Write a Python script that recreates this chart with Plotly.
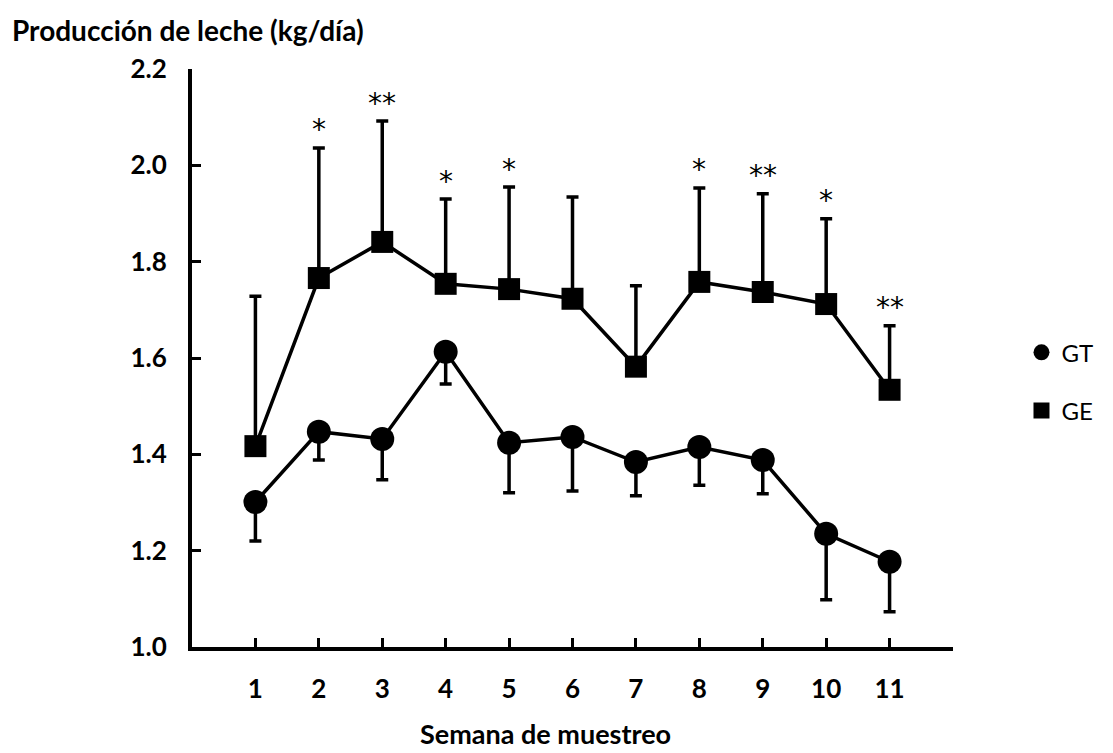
import plotly.graph_objects as go

weeks = list(range(1, 12))
gt_mean = [1.301, 1.447, 1.432, 1.613, 1.424, 1.436, 1.384, 1.415, 1.388, 1.235, 1.177]
gt_lower = [1.220, 1.388, 1.347, 1.546, 1.320, 1.324, 1.314, 1.336, 1.318, 1.098, 1.073]
ge_mean = [1.417, 1.766, 1.841, 1.754, 1.743, 1.723, 1.582, 1.758, 1.737, 1.712, 1.534]
ge_upper = [1.728, 2.036, 2.092, 1.930, 1.955, 1.934, 1.750, 1.953, 1.941, 1.889, 1.667]
signif = ["", "*", "**", "*", "*", "", "", "*", "**", "*", "**"]
x_tick_vals = list(range(1, 13))
x_tick_text = [str(w) for w in weeks] + [""]
y_tick_vals = [1.0, 1.2, 1.4, 1.6, 1.8, 2.0, 2.2]

gt_minus = [m - l for m, l in zip(gt_mean, gt_lower)]
ge_plus = [u - m for u, m in zip(ge_upper, ge_mean)]

FONT = "Lato"
W, H = 1105, 745
L, T = 184, 61
PW, PH = 761, 578

fig = go.Figure()

fig.add_trace(go.Scatter(
    x=weeks, y=gt_mean, mode="lines+markers", name="GT", showlegend=False,
    line=dict(color="black", width=3.5),
    marker=dict(symbol="circle", size=24, color="black"),
    error_y=dict(type="data", symmetric=False, array=[0] * 11, arrayminus=gt_minus,
                 color="black", thickness=3.5, width=6),
))
fig.add_trace(go.Scatter(
    x=weeks, y=ge_mean, mode="lines+markers", name="GE", showlegend=False,
    line=dict(color="black", width=3.5),
    marker=dict(symbol="square", size=22, color="black"),
    error_y=dict(type="data", symmetric=False, array=ge_plus, arrayminus=[0] * 11,
                 color="black", thickness=3.5, width=6),
))
# legend entries (markers only)
fig.add_trace(go.Scatter(x=[None], y=[None], mode="markers", name="GT", legendgroup="a",
                         marker=dict(symbol="circle", size=22, color="black")))
fig.add_trace(go.Scatter(x=[None], y=[None], mode="markers", name="GE", legendgroup="b",
                         marker=dict(symbol="square", size=20, color="black")))

for w, u, s in zip(weeks, ge_upper, signif):
    if s:
        fig.add_annotation(x=w, y=u, text=s, showarrow=False, yanchor="middle",
                           yshift=18, font=dict(family="DejaVu Sans", size=28, color="black"))

fig.add_annotation(xref="paper", yref="paper", x=(2 - L) / PW, y=1 + (T - 22) / PH,
                   xanchor="left", yanchor="middle", showarrow=False,
                   text="<b>Producción de leche (kg/día)</b>",
                   font=dict(family=FONT, size=28, color="black"))
fig.add_annotation(xref="paper", yref="paper", x=(537 - L) / PW, y=-(725 - T - PH) / PH,
                   xanchor="center", yanchor="middle", showarrow=False,
                   text="<b>Semana de muestreo</b>",
                   font=dict(family=FONT, size=27, color="black"))

fig.update_layout(
    width=W, height=H,
    margin=dict(l=L, r=W - L - PW, t=T, b=H - T - PH),
    paper_bgcolor="white", plot_bgcolor="white",
    font=dict(family=FONT, color="black"),
    legend=dict(x=1.09, y=0.548, xanchor="left", yanchor="top",
                font=dict(family=FONT, size=24, color="black"),
                traceorder="grouped", tracegroupgap=24, bgcolor="rgba(0,0,0,0)"),
    xaxis=dict(range=[0, 12], tickmode="array", tickvals=x_tick_vals,
               ticktext=[f"<b>{t}</b>" if t else "" for t in x_tick_text],
               showline=True, linecolor="black", linewidth=4, ticks="inside", ticklen=9,
               tickwidth=3, tickcolor="black", showgrid=False, zeroline=False,
               tickfont=dict(family=FONT, size=26, color="black"), ticklabelstandoff=16),
    yaxis=dict(range=[1.0, 2.2], tickmode="array", tickvals=y_tick_vals,
               ticktext=[f"<b>{v:.1f}</b>" for v in y_tick_vals],
               showline=True, linecolor="black", linewidth=4, ticks="inside", ticklen=9,
               tickwidth=3, tickcolor="black", showgrid=False, zeroline=False,
               tickfont=dict(family=FONT, size=26, color="black"), ticklabelstandoff=16),
)

fig.write_html("out.html")
